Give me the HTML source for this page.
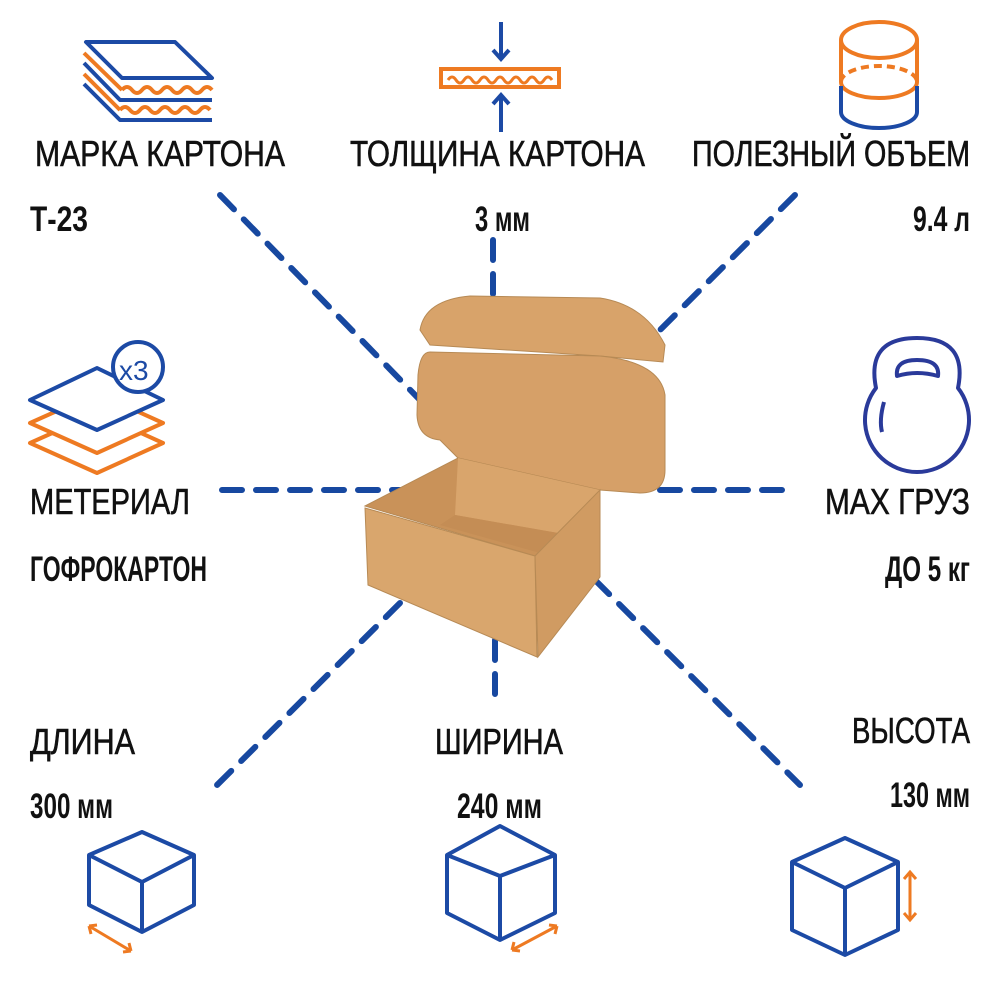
<!DOCTYPE html>
<html><head><meta charset="utf-8"><style>
html,body{margin:0;padding:0;background:#fff}
svg{display:block}
text{font-family:"Liberation Sans Narrow","Liberation Sans",sans-serif;fill:#111}
.l{font-size:36px;stroke:#111;stroke-width:0.6}
.v{font-size:35px;font-weight:bold}
</style></head><body>
<svg width="1000" height="1000" viewBox="0 0 1000 1000" xmlns="http://www.w3.org/2000/svg">
<g stroke="#1748a0" stroke-width="6" stroke-dasharray="20 14" stroke-linecap="round" fill="none">
<line x1="220" y1="195" x2="420" y2="400"/>
<line x1="493" y1="240" x2="493" y2="300"/>
<line x1="795" y1="195" x2="620" y2="370"/>
<line x1="222" y1="490" x2="420" y2="490"/>
<line x1="660" y1="490" x2="792" y2="490"/>
<line x1="400" y1="603" x2="215" y2="787"/>
<line x1="495" y1="640" x2="495" y2="700"/>
<line x1="595" y1="580" x2="800" y2="785"/>
</g>
<g stroke="#b78a55" stroke-width="1">
<path d="M420,330 Q425,300 470,296 L600,298 Q645,305 665,345 L663,362 L600,356 L430,345 Z" fill="#d8a36a"/>
<path d="M430,352 L600,356 Q660,362 665,395 L665,470 Q665,493 640,493 L600,490 L458,458 L440,440 Q418,438 417,415 L418,375 Q420,352 430,352 Z" fill="#d6a068"/>
<path d="M365,506 L458,458 L600,490 L535,556 Z" fill="#c99259"/>
<path d="M458,458 L600,490 L598,540 L455,515 Z" fill="#d9a56c" stroke="none"/>
<path d="M440,525 L455,515 L598,540 L540,553 Z" fill="#c48d55" stroke="none"/>
<path d="M365,508 L535,556 L537,657 L368,585 Z" fill="#d9a66d"/>
<path d="M535,556 L600,490 L600,577 L538,657 Z" fill="#d09b62"/>
</g>
<g fill="none" stroke-width="4" stroke-linejoin="round">
<path d="M86,42 L175,42 L212,78 L122,78 Z" stroke="#1c4aa5"/>
<path d="M84,53 L122,90" stroke="#ee7a22"/>
<path d="M122,90 q5,-6 10,0 t10,0 t10,0 t10,0 t10,0 t10,0 t10,0 t10,0 t10,0" stroke="#ee7a22"/>
<path d="M84,63 L120,100 L212,100" stroke="#1c4aa5"/>
<path d="M84,74 L120,110" stroke="#ee7a22"/>
<path d="M120,110 q5,-6 10,0 t10,0 t10,0 t10,0 t10,0 t10,0 t10,0 t10,0 t10,0" stroke="#ee7a22"/>
<path d="M84,84 L120,120 L212,120" stroke="#1c4aa5"/>
</g>
<g fill="none" stroke-width="4">
<line x1="501" y1="22" x2="501" y2="58" stroke="#1c4aa5"/>
<path d="M493,50 L501,59 L509,50" stroke="#1c4aa5"/>
<line x1="501" y1="96" x2="501" y2="132" stroke="#1c4aa5"/>
<path d="M493,104 L501,95 L509,104" stroke="#1c4aa5"/>
<rect x="441" y="69" width="118" height="18" stroke="#ee7a22"/>
<path d="M448,80 q4,-6 8,0 t8,0 t8,0 t8,0 t8,0 t8,0 t8,0 t8,0 t8,0 t8,0 t8,0 t8,0 t8,0" stroke="#ee7a22" stroke-width="3"/>
</g>
<g fill="none" stroke-width="4">
<ellipse cx="879" cy="40" rx="38" ry="18" stroke="#ee7a22"/>
<path d="M841,40 L841,82 M917,40 L917,82" stroke="#ee7a22"/>
<path d="M841,82 A38,16 0 0 1 917,82" stroke="#ee7a22" stroke-dasharray="8 5"/>
<path d="M841,82 A38,16 0 0 0 917,82" stroke="#ee7a22"/>
<path d="M841,86 L841,112 A38,16 0 0 0 917,112 L917,86" stroke="#1c4aa5"/>
</g>
<g fill="none" stroke-width="4" stroke-linejoin="round">
<path d="M30,443 L97,413 L163,443 L97,473 Z" stroke="#ee7a22"/>
<path d="M30,423 L97,393 L163,423 L97,453 Z" stroke="#ee7a22" fill="#fff"/>
<path d="M30,400 L97,368 L163,400 L97,430 Z" stroke="#1c4aa5" fill="#fff"/>
<circle cx="138" cy="367" r="25" stroke="#1c4aa5" fill="#fff"/>
</g>
<text x="119" y="380" style="font-size:28px;fill:#1c4aa5">x3</text>
<g fill="none" stroke="#2a3a9a" stroke-width="4" stroke-linejoin="round">
<path d="M876,388 A52,52 0 1 0 958,388 Q968,338 917,338 Q866,338 876,388 Z"/>
<path d="M897,376 Q895,360 917,360 Q940,360 938,376 Q917,370 897,376 Z"/>
<path d="M884,402 Q879,420 882,432"/>
</g>
<g fill="none" stroke="#1c4aa5" stroke-width="4" stroke-linejoin="round">
<path d="M142,832 L194,855 L194,905 L142,932 L89,905 L89,855 Z M89,855 L142,882 L194,855 M142,882 L142,932"/>
<path d="M500,826 L555,855 L555,913 L500,940 L447,913 L447,855 Z M447,855 L500,876 L555,855 M500,876 L500,940"/>
<path d="M845,838 L898,862 L898,930 L845,955 L792,930 L792,862 Z M792,862 L845,888 L898,862 M845,888 L845,955"/>
</g>
<g fill="none" stroke="#ee7a22" stroke-width="3">
<path d="M89,926 L131,951 M89,926 l2,8 M89,926 l8,-1 M131,951 l-2,-8 M131,951 l-8,1"/>
<path d="M512,950 L557,926 M512,950 l8,1 M512,950 l2,-8 M557,926 l-8,-1 M557,926 l-2,8"/>
<path d="M910,872 L910,920 M904,879 L910,872 L916,879 M904,913 L910,920 L916,913"/>
</g>
<text class="l" x="35" y="166" textLength="250" lengthAdjust="spacingAndGlyphs">МАРКА КАРТОНА</text>
<text class="l" x="350" y="166" textLength="295" lengthAdjust="spacingAndGlyphs">ТОЛЩИНА КАРТОНА</text>
<text class="l" x="692" y="166" textLength="278" lengthAdjust="spacingAndGlyphs">ПОЛЕЗНЫЙ ОБЪЕМ</text>
<text class="v" x="30" y="231" textLength="58" lengthAdjust="spacingAndGlyphs">Т-23</text>
<text class="v" x="475" y="231" textLength="55" lengthAdjust="spacingAndGlyphs">3 мм</text>
<text class="v" x="913" y="231" textLength="57" lengthAdjust="spacingAndGlyphs">9.4 л</text>
<text class="l" x="30" y="514" textLength="160" lengthAdjust="spacingAndGlyphs">МЕТЕРИАЛ</text>
<text class="l" x="825" y="514" textLength="145" lengthAdjust="spacingAndGlyphs">МАХ ГРУЗ</text>
<text class="v" x="30" y="581" textLength="177" lengthAdjust="spacingAndGlyphs">ГОФРОКАРТОН</text>
<text class="v" x="885" y="581" textLength="85" lengthAdjust="spacingAndGlyphs">ДО 5 кг</text>
<text class="l" x="30" y="754" textLength="105" lengthAdjust="spacingAndGlyphs">ДЛИНА</text>
<text class="l" x="435" y="754" textLength="128" lengthAdjust="spacingAndGlyphs">ШИРИНА</text>
<text class="l" x="852" y="743" textLength="118" lengthAdjust="spacingAndGlyphs">ВЫСОТА</text>
<text class="v" x="30" y="818" textLength="83" lengthAdjust="spacingAndGlyphs">300 мм</text>
<text class="v" x="457" y="818" textLength="85" lengthAdjust="spacingAndGlyphs">240 мм</text>
<text class="v" x="890" y="807" textLength="80" lengthAdjust="spacingAndGlyphs">130 мм</text>
</svg>
</body></html>
